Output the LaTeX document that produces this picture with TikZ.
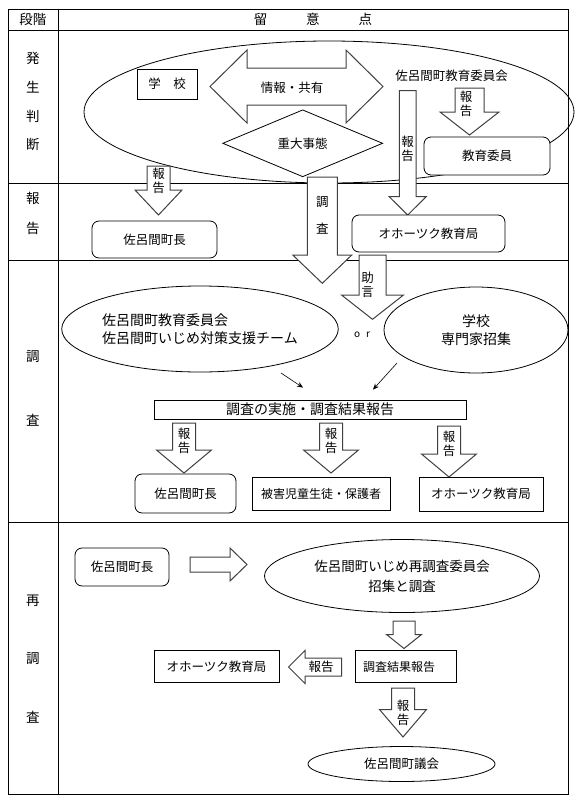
\documentclass[tikz,border=0pt]{standalone}
\usepackage{fontspec}
\setmainfont{Noto Sans CJK JP}
\usetikzlibrary{shapes.geometric,arrows.meta,calc}

\newcommand\downblock[5]{%
  \draw[blk] let \p1=(#1), \p2=(#2) in
    ({\x2-#3pt},\y1) -- ({\x2+#3pt},\y1) -- ({\x2+#3pt},{\y2+#5pt})
    -- ({\x2+#4pt},{\y2+#5pt}) -- (\x2,\y2) -- ({\x2-#4pt},{\y2+#5pt})
    -- ({\x2-#3pt},{\y2+#5pt}) -- cycle;}
\newcommand\sideblock[5]{%
  \draw[blk] let \p1=(#1), \p2=(#2) in
    (\x1,{\y2+#3pt}) -- ({\x2+(#5pt)},{\y2+#3pt}) -- ({\x2+(#5pt)},{\y2+#4pt})
    -- (\x2,\y2) -- ({\x2+(#5pt)},{\y2-#4pt}) -- ({\x2+(#5pt)},{\y2-#3pt})
    -- (\x1,{\y2-#3pt}) -- cycle;}

\begin{document}
\begin{tikzpicture}[x=1pt, y=-1pt, line width=0.8pt,
    font=\fontsize{12.5}{15}\selectfont,
    box/.style={draw, fill=white, rectangle, inner sep=0pt},
    rbox/.style={box, rounded corners=7pt},
    oval/.style={draw, ellipse, inner sep=0pt},
    blk/.style={draw=black!75, fill=white, line width=1pt},
    vtext/.style={align=center, inner sep=0pt, font=\fontsize{12.5}{14}\selectfont},
    rowtext/.style={inner sep=0pt, font=\fontsize{13.5}{15}\selectfont},
    link/.style={-{Stealth[length=6pt,width=5pt]}, line width=0.6pt}
]
\useasboundingbox (0,0) rectangle (577,804);
\draw (8,9) rectangle (568,794);
\draw (58,9) -- (58,794);
\foreach \y in {30,183,260,522} \draw (8,\y) -- (568,\y);
\node[rowtext] (stage) at (33,19) {段階};
\node[rowtext] (points) at (313,19) {留\hspace{39pt}意\hspace{39pt}点};
\foreach \ch/\y [count=\i] in {発/58,生/87,判/116,断/144,報/198,告/228,調/357,査/420,再/601,調/659,査/717}
  \node[rowtext] (row\i) at (33,\y) {\ch};

% 発生判断
\node[oval, minimum width=490pt, minimum height=142pt] (occur) at (329,112) {};
\node[box, minimum width=60pt, minimum height=30pt] (school) at (167,84) {学　校};
\draw[blk] (210,86.5) -- (247,50) -- (247,68) -- (346,68) -- (346,50) -- (383,86.5)
  -- (346,123) -- (346,105) -- (247,105) -- (247,123) -- cycle;
\node (share) at (292,88) {情報・共有};
\node[diamond, draw, fill=white, inner sep=0pt, aspect=2.4,
  minimum width=160pt, minimum height=67pt] (serious) at (302.7,143.3) {重大事態};
\node[inner sep=0pt] (board) at (451.5,76) {佐呂間町教育委員会};
\node[rbox, minimum width=126pt, minimum height=38pt] (educ) at (487,156) {教育委員};

\coordinate (r1a) at (469.5,88); \coordinate (r1b) at (469.5,135);
\downblock{r1a}{r1b}{14.5}{29.5}{23}
\node[vtext] (r1t) at (466,103.5) {報\\告};
\coordinate (r2a) at (407.7,90.7); \coordinate (r2b) at (407.7,215);
\downblock{r2a}{r2b}{8.3}{18.5}{18.3}
\node[vtext] (r2t) at (407.7,149) {報\\告};
\coordinate (r3a) at (158.5,166); \coordinate (r3b) at (158.5,215);
\downblock{r3a}{r3b}{11.5}{23.5}{25}
\node[vtext] (r3t) at (158.5,181) {報\\告};
\coordinate (r4a) at (322.3,177); \coordinate (r4b) at (322.3,283.3);
\downblock{r4a}{r4b}{15}{29.5}{28.3}
\node[vtext, font=\fontsize{12.5}{27}\selectfont] (r4t) at (322.3,215.5) {調\\査};

% 報告
\node[rbox, minimum width=125pt, minimum height=37pt] (mayor1) at (154.5,239.5) {佐呂間町長};
\node[rbox, minimum width=153pt, minimum height=37pt] (okh1) at (428.5,233.5) {オホーツク教育局};
\coordinate (r5a) at (372.5,255); \coordinate (r5b) at (372.5,319.3);
\downblock{r5a}{r5b}{13.5}{31}{24.3}
\node[vtext] (r5t) at (367.5,285) {助\\言};

% 調査
\node[oval, minimum width=276pt, minimum height=86pt, align=left,
  font=\fontsize{14}{18}\selectfont] (team) at (200,329) {佐呂間町教育委員会\\佐呂間町いじめ対策支援チーム};
\node[oval, minimum width=184pt, minimum height=86pt, align=center,
  font=\fontsize{14}{18}\selectfont] (expert) at (476,330) {学校\\専門家招集};
\node[inner sep=0pt, font=\fontsize{10}{12}\selectfont] (or) at (362,335) {o\hspace{6pt}r};
\node[box, minimum width=312pt, minimum height=19pt,
  font=\fontsize{14}{16}\selectfont] (survey) at (310,409.5) {調査の実施・調査結果報告};
\coordinate (l1) at (281,373); \coordinate (l2) at (397,363);
\draw[link] (l1) -- ([xshift=-7pt,yshift=12pt]survey.north);
\draw[link] (l2) -- ([xshift=63pt,yshift=10pt]survey.north);
\foreach \x/\t/\b [count=\i] in {184/423/473, 331/423/473, 449/426/477} {
  \coordinate (sa\i) at (\x,\t); \coordinate (sb\i) at (\x,\b);
  \downblock{sa\i}{sb\i}{11.5}{27.5}{23}
  \node[vtext] (st\i) at (\x,\t+18) {報\\告};
}
\node[rbox, minimum width=101pt, minimum height=39pt] (mayor2) at (185.5,493.5) {佐呂間町長};
\node[box, minimum width=138pt, minimum height=33pt,
  font=\fontsize{12}{14}\selectfont] (victim) at (321,493.5) {被害児童生徒・保護者};
\node[box, minimum width=124pt, minimum height=34pt] (okh2) at (481,494) {オホーツク教育局};

% 再調査
\node[rbox, minimum width=94pt, minimum height=38pt] (mayor3) at (122,567) {佐呂間町長};
\coordinate (m1) at (190,564.5); \coordinate (m2) at (247,564.5);
\sideblock{m1}{m2}{7.5}{16.5}{-17}
\node[oval, minimum width=275pt, minimum height=73pt, align=center,
  font=\fontsize{13.5}{20}\selectfont] (recom) at (402,576) {佐呂間町いじめ再調査委員会\\招集と調査};
\coordinate (d1a) at (404,621); \coordinate (d1b) at (404,648.5);
\downblock{d1a}{d1b}{11}{17.5}{14}
\node[box, minimum width=101pt, minimum height=32pt, text width=85pt, inner xsep=8pt,
  align=left, font=\fontsize{12}{14}\selectfont] (result) at (405.5,666.5) {調査結果報告};
\node[box, minimum width=125pt, minimum height=32pt] (okh3) at (216.5,666.5) {オホーツク教育局};
\coordinate (e1) at (341.7,667); \coordinate (e2) at (288.5,667);
\sideblock{e1}{e2}{9}{16.5}{16.5}
\node[inner sep=0pt] (et) at (321,667) {報告};
\coordinate (f1a) at (403,688); \coordinate (f1b) at (403,737);
\downblock{f1a}{f1b}{11.5}{23.5}{27.5}
\node[vtext] (ft) at (403,712.5) {報\\告};
\node[oval, minimum width=187pt, minimum height=35pt] (council) at (401.5,764) {佐呂間町議会};
\end{tikzpicture}
\end{document}
